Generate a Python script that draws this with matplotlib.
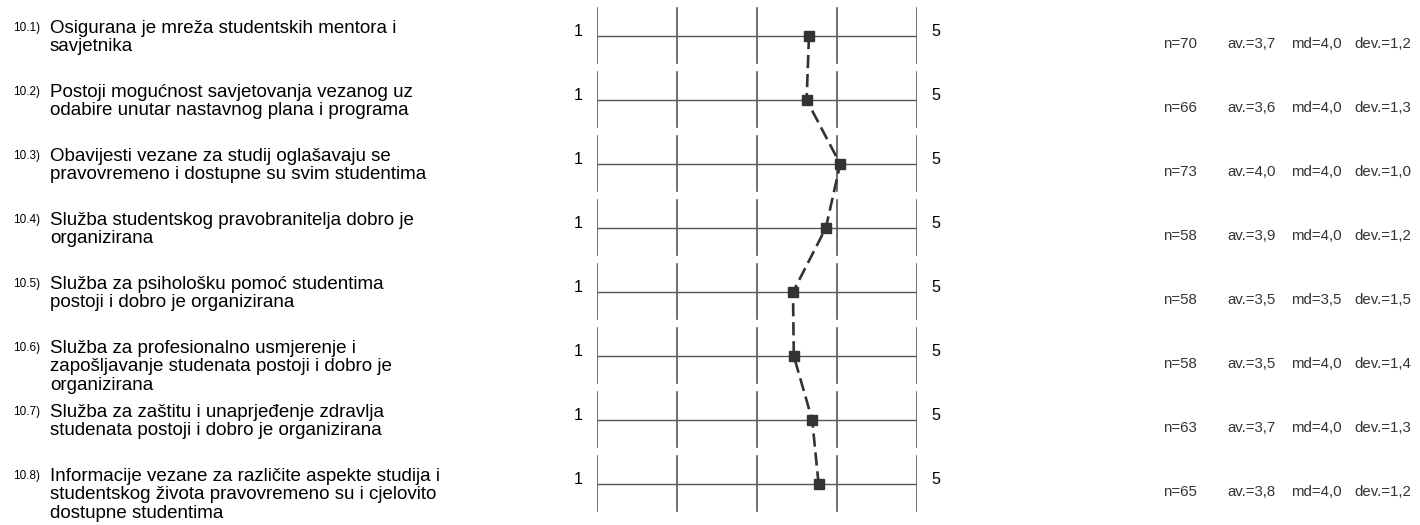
#!/usr/bin/python
import matplotlib
matplotlib.use("Agg")
import matplotlib.pyplot as plt
import numpy as np

plt.rcParams['font.family'] = ['Liberation Sans', 'DejaVu Sans']

codes = ['10.1)', '10.2)', '10.3)', '10.4)', '10.5)', '10.6)', '10.7)', '10.8)']
questions = [
    'Osigurana je mreža studentskih mentora i\nsavjetnika',
    'Postoji mogućnost savjetovanja vezanog uz\nodabire unutar nastavnog plana i programa',
    'Obavijesti vezane za studij oglašavaju se\npravovremeno i dostupne su svim studentima',
    'Služba studentskog pravobranitelja dobro je\norganizirana',
    'Služba za psihološku pomoć studentima\npostoji i dobro je organizirana',
    'Služba za profesionalno usmjerenje i\nzapošljavanje studenata postoji i dobro je\norganizirana',
    'Služba za zaštitu i unaprjeđenje zdravlja\nstudenata postoji i dobro je organizirana',
    'Informacije vezane za različite aspekte studija i\nstudentskog života pravovremeno su i cjelovito\ndostupne studentima',
]
means = [3.65, 3.62, 4.04, 3.86, 3.45, 3.46, 3.69, 3.77]
n = [70, 66, 73, 58, 58, 58, 63, 65]
av = ['3,7', '3,6', '4,0', '3,9', '3,5', '3,5', '3,7', '3,8']
md = ['4,0', '4,0', '4,0', '4,0', '3,5', '4,0', '4,0', '4,0']
dev = ['1,2', '1,3', '1,0', '1,2', '1,5', '1,4', '1,3', '1,2']

W, H = 1420, 525
fig = plt.figure(figsize=(W / 100, H / 100), dpi=100)
# scale 1..5 spans pixels 597..917, rows every 64 px starting at 36
ax = fig.add_axes([597 / W, 0, 320 / W, 1])
ax.set_xlim(1, 5)
ax.set_ylim((H - 36) / 64, -36 / 64)
ax.axis('off')

def px(x):
    return 1 + (x - 597) / 80.0

rows = np.arange(len(means))
for i in rows:
    ax.plot([1, 5], [i, i], color='#555555', lw=1.0, solid_capstyle='butt')
    for t in range(1, 6):
        ax.plot([t, t], [i - 28 / 64, i + 27 / 64], color='#555555', lw=1.2)
    ax.text(px(574), i - 4 / 64, '1', fontsize=11.5, ha='left', va='center')
    ax.text(px(931), i - 5 / 64, '5', fontsize=11.5, ha='left', va='center')
    ax.text(px(13), i - 14 / 64, codes[i], fontsize=8.5, ha='left', va='top', clip_on=False)
    ax.text(px(50), i - 16 / 64, questions[i], fontsize=13.5, ha='left', va='top',
            linespacing=1.1, clip_on=False)
    y = i + 8 / 64
    ax.text(px(1163), y, 'n=%d' % n[i], fontsize=10.8, color='#333333', va='center', clip_on=False)
    ax.text(px(1227), y, 'av.=' + av[i], fontsize=10.8, color='#333333', va='center', clip_on=False)
    ax.text(px(1291), y, 'md=' + md[i], fontsize=10.8, color='#333333', va='center', clip_on=False)
    ax.text(px(1354), y, 'dev.=' + dev[i], fontsize=10.8, color='#333333', va='center', clip_on=False)

ax.plot(means, rows, color='#333333', lw=1.9, dashes=(5, 2.2),
        marker='s', markersize=7, markerfacecolor='#333333', markeredgecolor='#333333')

fig.savefig('out.png', dpi=100)
